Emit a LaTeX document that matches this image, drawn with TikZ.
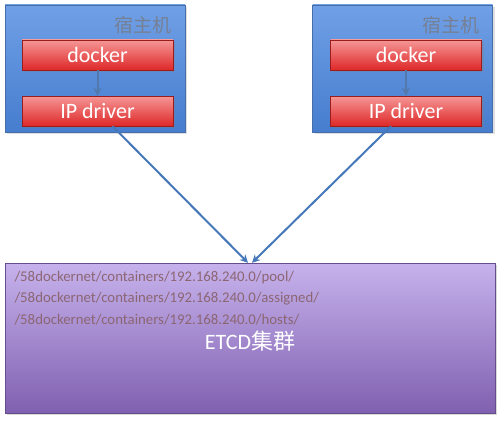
\documentclass[tikz,border=0pt]{standalone}
\usepackage{fontspec}
\setmainfont{Carlito}
\newfontfamily\cjk{Noto Sans CJK SC}
\usetikzlibrary{shadows,arrows.meta}

\definecolor{hostblue}{RGB}{76,136,224}
\definecolor{hostline}{RGB}{70,110,170}
\definecolor{hosttext}{RGB}{118,128,148}
\definecolor{redtop}{RGB}{246,150,150}
\definecolor{redbot}{RGB}{222,40,40}
\definecolor{purpletop}{RGB}{198,178,236}
\definecolor{purplebot}{RGB}{128,96,176}
\definecolor{arrowblue}{RGB}{70,120,185}

\tikzset{
  hostbox/.style={draw=hostline, top color=hostblue!80!white, bottom color=hostblue!92!black,
    minimum width=180pt, minimum height=127pt, drop shadow={opacity=0.25}},
  redbox/.style={draw=redbot!70!black, top color=redtop, bottom color=redbot,
    minimum width=151pt, minimum height=30pt, text=white, font=\fontsize{22}{24}\selectfont,
    drop shadow={opacity=0.3}},
  etcdbox/.style={draw=purplebot!80!black, top color=purpletop, bottom color=purplebot,
    minimum width=490pt, minimum height=150pt, drop shadow={opacity=0.3}},
  hostlabel/.style={text=hosttext, font=\cjk\fontsize{19}{21}\selectfont, anchor=north east},
  pathtext/.style={text=gray!80!purple, font=\fontsize{14.8}{16}\selectfont, anchor=west},
  link/.style={draw=arrowblue, line width=2pt, -{Stealth[length=8pt,width=8pt]}}
}

\begin{document}
\begin{tikzpicture}[x=1pt,y=-1pt]
\useasboundingbox (0,0) rectangle (500,420);

% hosts
\node[hostbox] (host1) at (95,68.5) {};
\node[hostbox] (host2) at (402.5,68.5) {};
\node[hostlabel] (label1) at ([xshift=-10pt,yshift=-8pt]host1.north east) {宿主机};
\node[hostlabel] (label2) at ([xshift=-10pt,yshift=-8pt]host2.north east) {宿主机};

% docker and driver boxes
\node[redbox] (docker1) at (97.5,55) {docker};
\node[redbox] (driver1) at (97.5,111) {IP driver};
\node[redbox] (docker2) at (406,55) {docker};
\node[redbox] (driver2) at (406,111) {IP driver};

% etcd cluster
\node[etcdbox] (etcd) at (250,338) {};
\node[pathtext] (pool) at (11,278) {/58dockernet/containers/192.168.240.0/pool/};
\node[pathtext] (assigned) at (11,299) {/58dockernet/containers/192.168.240.0/assigned/};
\node[pathtext] (hosts) at (11,320) {/58dockernet/containers/192.168.240.0/hosts/};
\node[text=white, font=\fontsize{22}{24}\selectfont] (etcdlabel) at (250,341) {ETCD{\cjk 集群}};

% links
\draw[link, draw=arrowblue!80!gray] (docker1.south) -- (driver1.north);
\draw[link, draw=arrowblue!80!gray] (docker2.south) -- (driver2.north);
\draw[link] ([xshift=15pt]driver1.south) -- ([xshift=-2pt]etcd.north);
\draw[link] ([xshift=-15pt]driver2.south) -- ([xshift=2pt]etcd.north);

\end{tikzpicture}
\end{document}
